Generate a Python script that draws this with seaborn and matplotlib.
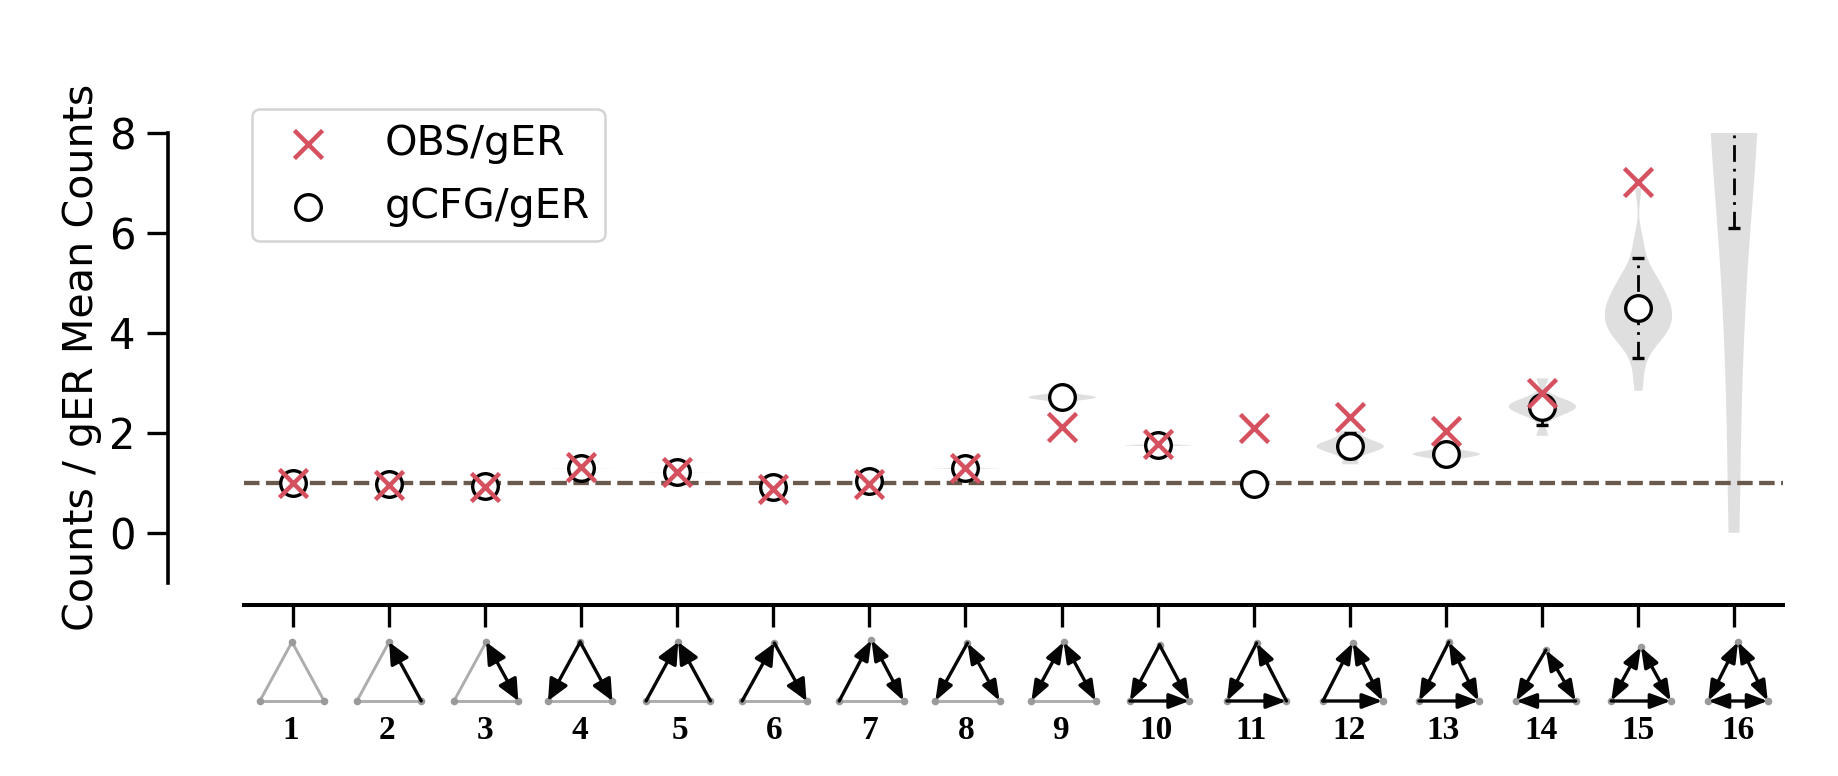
import numpy as np
import pandas as pd
import matplotlib
matplotlib.use("Agg")
import matplotlib.pyplot as plt
from matplotlib.patches import FancyArrowPatch
from matplotlib.transforms import ScaledTranslation
import seaborn as sns

motifs = [str(i) for i in range(1, 17)]
obs_ratio = [1.0, 0.96, 0.92, 1.32, 1.22, 0.88, 0.98, 1.3, 2.12, 1.78, 2.1, 2.32, 2.03, 2.8, 7.02, np.nan]
cfg_ratio = [1.0, 0.97, 0.93, 1.3, 1.22, 0.92, 1.03, 1.3, 2.72, 1.76, 0.97, 1.73, 1.57, 2.52, 4.5, np.nan]
err_low = [0.99, 0.96, 0.92, 1.28, 1.2, 0.9, 1.0, 1.27, 2.68, 1.74, 0.96, 1.5, 1.45, 2.15, 3.5, 6.1]
err_high = [1.01, 0.98, 0.94, 1.32, 1.24, 0.94, 1.06, 1.33, 2.76, 1.78, 0.98, 2.0, 1.69, 2.7, 5.5, 20.0]

samples = {
    "1": [0.995, 0.999, 1.0, 1.001, 1.005],
    "2": [0.965, 0.969, 0.97, 0.971, 0.975],
    "3": [0.925, 0.929, 0.93, 0.931, 0.935],
    "4": [1.295, 1.299, 1.3, 1.301, 1.305],
    "5": [1.215, 1.219, 1.22, 1.221, 1.225],
    "6": [0.915, 0.919, 0.92, 0.921, 0.925],
    "7": [1.025, 1.029, 1.03, 1.031, 1.035],
    "8": [1.29, 1.297, 1.3, 1.303, 1.31],
    "9": [2.55, 2.66, 2.69, 2.71, 2.72, 2.73, 2.75, 2.78, 2.9],
    "10": [1.73, 1.75, 1.755, 1.76, 1.765, 1.77, 1.79],
    "11": [0.96, 0.968, 0.97, 0.972, 0.98],
    "12": [1.38, 1.58, 1.66, 1.71, 1.74, 1.77, 1.82, 1.9, 2.05],
    "13": [1.38, 1.5, 1.54, 1.57, 1.58, 1.6, 1.62, 1.66, 1.76],
    "14": [1.95, 2.34, 2.43, 2.48, 2.52, 2.55, 2.58, 2.63, 2.7, 3.1],
    "15": [2.85, 3.2, 3.5, 3.7, 3.8, 3.9, 3.95, 4.0, 4.05, 4.1, 4.15, 4.2, 4.25, 4.3, 4.35, 4.4,
           4.45, 4.5, 4.55, 4.6, 4.65, 4.7, 4.75, 4.8, 4.9, 5.0, 5.05, 5.1, 5.2, 5.35, 5.6, 5.9, 6.9],
    "16": [0.0, 3.0, 5.0, 6.5, 7.5, 8.0, 9.0, 9.5, 10.0, 11.0, 12.0, 12.5, 13.0, 13.5, 14.0, 14.5,
           15.0, 15.5, 16.0, 17.0, 18.0, 20.0],
}

# link state per motif: 0 absent, 1 forward, 2 backward, 3 both
edge_apex_left = [0, 0, 0, 1, 2, 2, 2, 1, 3, 1, 1, 2, 1, 1, 3, 3]
edge_apex_right = [0, 2, 3, 1, 2, 1, 3, 3, 3, 1, 2, 3, 3, 3, 3, 3]
edge_left_right = [0, 0, 0, 0, 0, 0, 0, 0, 0, 1, 1, 1, 1, 2, 1, 3]

legend_labels = ["OBS/gER", "gCFG/gER"]
y_label = "Counts / gER Mean Counts"
y_ticks = [0, 2, 4, 6, 8]

# small hand placement of the pasted-in glyphs, in pixels
apex_y = [642, 642, 642, 642, 642, 643, 640, 643, 642, 645, 643, 643, 642, 650, 647, 642]
glyph_dx = [-1, 0, 1, -1, 1, 1, 2, 2, 2, 2, 3, 3, 3, 4, 3, 4]
label_dx = [-2, -2, 0, -1, 2, 1, 0, 1, -1, -1, -2, -1, -2, -1, 0, 3]

W, H = 1838, 776
sns.set_theme(style="white")
plt.rcParams["font.family"] = ["DejaVu Sans"]
fig = plt.figure(figsize=(W / 100, H / 100), dpi=100)
x0, x1, ytop, ybot = 244, 1783, 132.8, 582.8
ax = fig.add_axes([x0 / W, 1 - ybot / H, (x1 - x0) / W, (ybot - ytop) / H])

long_df = pd.DataFrame(
    [(m, v) for m in motifs for v in samples[m]], columns=["motif", "value"]
)
sns.violinplot(
    data=long_df, x="motif", y="value", order=motifs, ax=ax, color="#dfdfdf",
    saturation=1, linewidth=0, inner=None, cut=0, density_norm="width", width=0.7,
    bw_method="scott", bw_adjust=0.65, zorder=1,
)
xpos = np.arange(len(motifs))
cfg = np.array(cfg_ratio)
cen = np.where(np.isnan(cfg), np.array(err_low), cfg)
eb = ax.errorbar(
    xpos, cen, yerr=[cen - np.array(err_low), np.array(err_high) - cen], fmt="none",
    ecolor="black", elinewidth=2.0, capsize=4.4, capthick=2.4, zorder=3,
)
eb[2][0].set_linestyle((0, (6, 2.5, 1, 2.5)))
ax.axhline(1, color="#6a5a4e", lw=3.1, ls=(0, (3.6, 1.5)), zorder=2.5)
sns.scatterplot(
    x=xpos, y=cfg_ratio, ax=ax, marker="o", s=340, facecolor="white", edgecolor="black",
    linewidth=2.4, label=legend_labels[1], zorder=4,
)
sns.scatterplot(
    x=xpos, y=obs_ratio, ax=ax, marker="x", s=410, color="#d5515f", linewidth=3.2,
    label=legend_labels[0], zorder=5,
)

ax.set_xlim(-0.51, 15.51)
ax.set_ylim(-1, 8)
ax.set_xlabel("")
ax.set_ylabel(y_label, fontsize=29.7, labelpad=5, color="black")
ax.set_yticks(y_ticks)
ax.set_xticks(xpos)
ax.set_xticklabels(motifs)
ax.tick_params(axis="x", length=16, width=2.4, color="black", pad=63, bottom=True,
               labelsize=24, labelcolor="black", labelfontfamily="Liberation Serif")
ax.tick_params(axis="y", length=15, width=2.4, color="black", labelsize=30, pad=8, left=True,
               labelcolor="black")
for s in ("top", "right"):
    ax.spines[s].set_visible(False)
ax.spines["left"].set_position(("outward", 55))
ax.spines["bottom"].set_position(("outward", 16))
ax.spines["left"].set_linewidth(2.6)
ax.spines["bottom"].set_linewidth(2.9)
ax.spines["left"].set_color("black")
ax.spines["bottom"].set_color("black")

h, l = ax.get_legend_handles_labels()
order = [l.index(t) for t in legend_labels]
leg = ax.legend(
    [h[i] for i in order], [l[i] for i in order], loc="upper left",
    bbox_to_anchor=(252 / W, 1 - 109 / H), bbox_transform=fig.transFigure,
    fontsize=29.7, frameon=True, fancybox=True, framealpha=1, edgecolor="#d4d4d4",
    handletextpad=0.85, labelspacing=0.55, borderpad=0.36, borderaxespad=0,
)
leg.get_frame().set_linewidth(1.8)
for t in leg.get_texts():
    t.set_color("black")

for lab, dx in zip(ax.get_xticklabels(), label_dx):
    lab.set_fontweight("bold")
    lab.set_transform(lab.get_transform() + ScaledTranslation(dx * 1.172 / 100, 0, fig.dpi_scale_trans))

# motif glyphs under the x axis (y measured in figure pixels)
mot = fig.add_axes([x0 / W, 0, (x1 - x0) / W, 1])
mot.set_xlim(-0.51, 15.51)
mot.set_ylim(H, 0)
mot.axis("off")
mot.patch.set_alpha(0)


def draw_edge(p, q, state, head_len, head_wid):
    if state == 0:
        mot.plot([p[0], q[0]], [p[1], q[1]], color="#adadad", lw=2.1, zorder=1,
                 solid_capstyle="round")
        return
    style = {1: "-|>", 2: "<|-", 3: "<|-|>"}[state]
    mot.add_patch(FancyArrowPatch(
        p, q, arrowstyle=f"{style},head_length={head_len},head_width={head_wid}", mutation_scale=1,
        shrinkA=0, shrinkB=0, lw=2.4, color="#050505", zorder=2))


for i in range(len(motifs)):
    cx = i + glyph_dx[i] / 96
    half = 0.335 if i < 9 else 0.31
    hl, hw = (13, 6) if i < 6 else (12, 4.5)
    apex, left, right = (cx, apex_y[i]), (cx - half, 701), (cx + half, 701)
    draw_edge(apex, left, edge_apex_left[i], hl, hw)
    draw_edge(apex, right, edge_apex_right[i], hl, hw)
    draw_edge(left, right, edge_left_right[i], hl, hw)
    mot.scatter([apex[0], left[0], right[0]], [apex[1], left[1], right[1]], s=30,
                color="#9a9a9a", linewidths=0, zorder=1.5)

fig.savefig("out.png", dpi=100, facecolor="white")
